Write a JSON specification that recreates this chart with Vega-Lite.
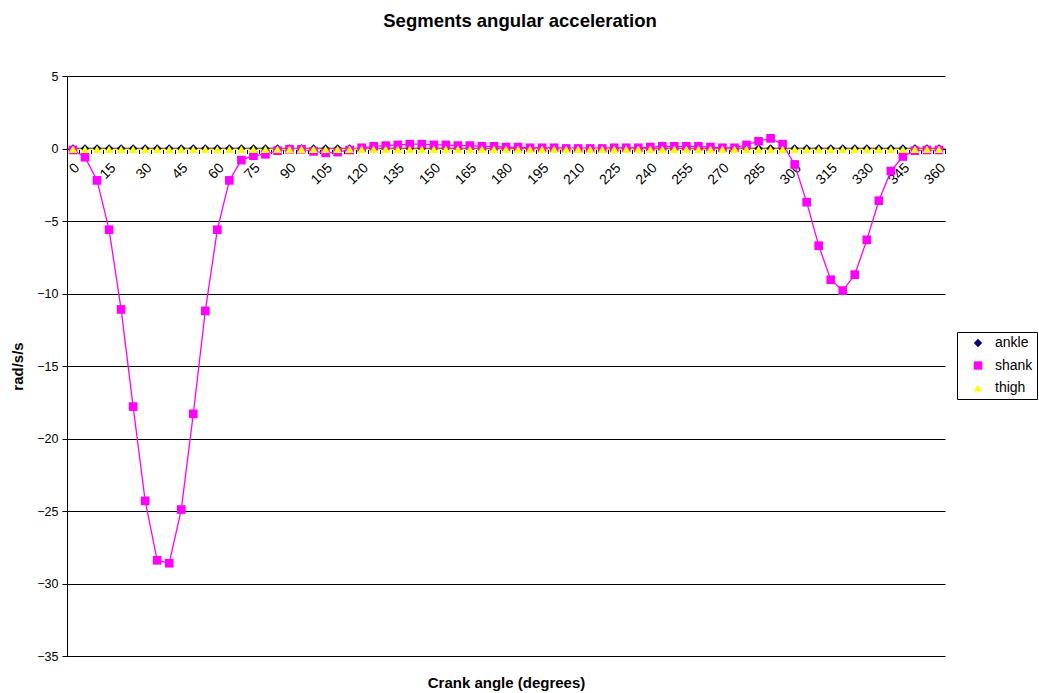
{
  "$schema": "https://vega.github.io/schema/vega-lite/v6.json",
  "width": 878,
  "height": 580,
  "autosize": {"type": "none"},
  "padding": {"left": 67, "top": 76, "right": 94, "bottom": 37},
  "background": "white",
  "config": {
    "font": "Liberation Sans",
    "view": {"stroke": null},
    "axis": {"labelColor": "black", "titleColor": "black", "domainColor": "black", "tickColor": "black"},
    "legend": {
      "orient": "none",
      "legendX": 890,
      "legendY": 256,
      "strokeColor": "black",
      "fillColor": "white",
      "padding": 4,
      "symbolSize": 70,
      "symbolOffset": 10,
      "symbolStrokeWidth": 1,
      "labelFontSize": 14,
      "labelColor": "black",
      "labelOffset": 10,
      "rowPadding": 8.5,
      "title": null
    }
  },
  "title": {
    "text": "Segments angular acceleration",
    "fontSize": 18.5,
    "fontWeight": "bold",
    "color": "black",
    "anchor": "middle",
    "offset": 40,
    "dx": 14
  },
  "data": {
    "values": [
      {"angle": 0, "ankle": 0, "shank": -0.1, "thigh": -0.05},
      {"angle": 5, "ankle": 0, "shank": -0.6, "thigh": -0.05},
      {"angle": 10, "ankle": 0, "shank": -2.2, "thigh": -0.05},
      {"angle": 15, "ankle": 0, "shank": -5.6, "thigh": -0.05},
      {"angle": 20, "ankle": 0, "shank": -11.1, "thigh": -0.05},
      {"angle": 25, "ankle": 0, "shank": -17.8, "thigh": -0.05},
      {"angle": 30, "ankle": 0, "shank": -24.3, "thigh": -0.05},
      {"angle": 35, "ankle": 0, "shank": -28.4, "thigh": -0.05},
      {"angle": 40, "ankle": 0, "shank": -28.6, "thigh": -0.05},
      {"angle": 45, "ankle": 0, "shank": -24.9, "thigh": -0.05},
      {"angle": 50, "ankle": 0, "shank": -18.3, "thigh": -0.05},
      {"angle": 55, "ankle": 0, "shank": -11.2, "thigh": -0.05},
      {"angle": 60, "ankle": 0, "shank": -5.6, "thigh": -0.05},
      {"angle": 65, "ankle": 0, "shank": -2.2, "thigh": -0.05},
      {"angle": 70, "ankle": 0, "shank": -0.8, "thigh": -0.05},
      {"angle": 75, "ankle": 0, "shank": -0.5, "thigh": -0.05},
      {"angle": 80, "ankle": 0, "shank": -0.4, "thigh": -0.05},
      {"angle": 85, "ankle": 0, "shank": -0.15, "thigh": -0.05},
      {"angle": 90, "ankle": 0, "shank": -0.05, "thigh": -0.05},
      {"angle": 95, "ankle": 0, "shank": -0.05, "thigh": -0.05},
      {"angle": 100, "ankle": 0, "shank": -0.2, "thigh": -0.05},
      {"angle": 105, "ankle": 0, "shank": -0.3, "thigh": -0.05},
      {"angle": 110, "ankle": 0, "shank": -0.25, "thigh": -0.05},
      {"angle": 115, "ankle": 0, "shank": -0.1, "thigh": -0.05},
      {"angle": 120, "ankle": 0, "shank": 0.05, "thigh": -0.05},
      {"angle": 125, "ankle": 0, "shank": 0.15, "thigh": -0.05},
      {"angle": 130, "ankle": 0, "shank": 0.2, "thigh": -0.05},
      {"angle": 135, "ankle": 0, "shank": 0.25, "thigh": -0.05},
      {"angle": 140, "ankle": 0, "shank": 0.3, "thigh": -0.05},
      {"angle": 145, "ankle": 0, "shank": 0.3, "thigh": -0.05},
      {"angle": 150, "ankle": 0, "shank": 0.25, "thigh": -0.05},
      {"angle": 155, "ankle": 0, "shank": 0.25, "thigh": -0.05},
      {"angle": 160, "ankle": 0, "shank": 0.2, "thigh": -0.05},
      {"angle": 165, "ankle": 0, "shank": 0.2, "thigh": -0.05},
      {"angle": 170, "ankle": 0, "shank": 0.15, "thigh": -0.05},
      {"angle": 175, "ankle": 0, "shank": 0.15, "thigh": -0.05},
      {"angle": 180, "ankle": 0, "shank": 0.1, "thigh": -0.05},
      {"angle": 185, "ankle": 0, "shank": 0.1, "thigh": -0.05},
      {"angle": 190, "ankle": 0, "shank": 0.05, "thigh": -0.05},
      {"angle": 195, "ankle": 0, "shank": 0.05, "thigh": -0.05},
      {"angle": 200, "ankle": 0, "shank": 0.05, "thigh": -0.05},
      {"angle": 205, "ankle": 0, "shank": 0.0, "thigh": -0.05},
      {"angle": 210, "ankle": 0, "shank": 0.0, "thigh": -0.05},
      {"angle": 215, "ankle": 0, "shank": 0.0, "thigh": -0.05},
      {"angle": 220, "ankle": 0, "shank": 0.0, "thigh": -0.05},
      {"angle": 225, "ankle": 0, "shank": 0.05, "thigh": -0.05},
      {"angle": 230, "ankle": 0, "shank": 0.05, "thigh": -0.05},
      {"angle": 235, "ankle": 0, "shank": 0.05, "thigh": -0.05},
      {"angle": 240, "ankle": 0, "shank": 0.1, "thigh": -0.05},
      {"angle": 245, "ankle": 0, "shank": 0.15, "thigh": -0.05},
      {"angle": 250, "ankle": 0, "shank": 0.15, "thigh": -0.05},
      {"angle": 255, "ankle": 0, "shank": 0.15, "thigh": -0.05},
      {"angle": 260, "ankle": 0, "shank": 0.15, "thigh": -0.05},
      {"angle": 265, "ankle": 0, "shank": 0.1, "thigh": -0.05},
      {"angle": 270, "ankle": 0, "shank": 0.05, "thigh": -0.05},
      {"angle": 275, "ankle": 0, "shank": 0.05, "thigh": -0.05},
      {"angle": 280, "ankle": 0, "shank": 0.25, "thigh": -0.05},
      {"angle": 285, "ankle": 0, "shank": 0.5, "thigh": -0.05},
      {"angle": 290, "ankle": 0, "shank": 0.7, "thigh": -0.05},
      {"angle": 295, "ankle": 0, "shank": 0.3, "thigh": -0.05},
      {"angle": 300, "ankle": 0, "shank": -1.1, "thigh": -0.05},
      {"angle": 305, "ankle": 0, "shank": -3.7, "thigh": -0.05},
      {"angle": 310, "ankle": 0, "shank": -6.7, "thigh": -0.05},
      {"angle": 315, "ankle": 0, "shank": -9.05, "thigh": -0.05},
      {"angle": 320, "ankle": 0, "shank": -9.8, "thigh": -0.05},
      {"angle": 325, "ankle": 0, "shank": -8.7, "thigh": -0.05},
      {"angle": 330, "ankle": 0, "shank": -6.3, "thigh": -0.05},
      {"angle": 335, "ankle": 0, "shank": -3.6, "thigh": -0.05},
      {"angle": 340, "ankle": 0, "shank": -1.55, "thigh": -0.05},
      {"angle": 345, "ankle": 0, "shank": -0.55, "thigh": -0.05},
      {"angle": 350, "ankle": 0, "shank": -0.15, "thigh": -0.05},
      {"angle": 355, "ankle": 0, "shank": -0.1, "thigh": -0.05},
      {"angle": 360, "ankle": 0, "shank": -0.1, "thigh": -0.05}
    ]
  },
  "transform": [{"fold": ["ankle", "shank", "thigh"], "as": ["segment", "value"]}],
  "encoding": {
    "y": {
      "field": "value",
      "type": "quantitative",
      "scale": {"domain": [-35, 5], "nice": false, "zero": false},
      "axis": {
        "values": [-35, -30, -25, -20, -15, -10, -5, 0, 5],
        "title": "rad/s/s",
        "grid": true,
        "gridColor": "black",
        "gridWidth": 1,
        "domainColor": "black",
        "tickColor": "black",
        "tickSize": 5,
        "labelFontSize": 12.5,
        "labelPadding": 4,
        "titleFontSize": 15,
        "titleFontWeight": "bold",
        "titlePadding": 11
      }
    }
  },
  "layer": [
    {
      "mark": {"type": "line", "strokeWidth": 1.3},
      "encoding": {
        "x": {
          "field": "angle",
          "type": "quantitative",
          "scale": {"domain": [-2.5, 362.5], "nice": false, "zero": false},
          "axis": {
            "orient": "bottom",
            "offset": -507.5,
            "values": [-2.5, 2.5, 7.5, 12.5, 17.5, 22.5, 27.5, 32.5, 37.5, 42.5, 47.5, 52.5, 57.5, 62.5, 67.5, 72.5, 77.5, 82.5, 87.5, 92.5, 97.5, 102.5, 107.5, 112.5, 117.5, 122.5, 127.5, 132.5, 137.5, 142.5, 147.5, 152.5, 157.5, 162.5, 167.5, 172.5, 177.5, 182.5, 187.5, 192.5, 197.5, 202.5, 207.5, 212.5, 217.5, 222.5, 227.5, 232.5, 237.5, 242.5, 247.5, 252.5, 257.5, 262.5, 267.5, 272.5, 277.5, 282.5, 287.5, 292.5, 297.5, 302.5, 307.5, 312.5, 317.5, 322.5, 327.5, 332.5, 337.5, 342.5, 347.5, 352.5, 357.5, 362.5],
            "labels": false,
            "ticks": true,
            "tickSize": 5,
            "domain": true,
            "grid": false,
            "title": null
          }
        },
        "stroke": {
          "field": "segment",
          "type": "nominal",
          "scale": {"domain": ["thigh", "shank", "ankle"], "range": ["#FFFF00", "#FF00FF", "#000080"]},
          "legend": null
        }
      }
    },
    {
      "mark": {"type": "point", "filled": true, "opacity": 1, "size": 75},
      "encoding": {
        "x": {
          "field": "angle",
          "type": "quantitative",
          "scale": {"domain": [-2.5, 362.5], "nice": false, "zero": false},
          "axis": {
            "orient": "bottom",
            "offset": -507.5,
            "values": [0, 15, 30, 45, 60, 75, 90, 105, 120, 135, 150, 165, 180, 195, 210, 225, 240, 255, 270, 285, 300, 315, 330, 345, 360],
            "labels": true,
            "labelAngle": -45,
            "labelAlign": "right",
            "labelBaseline": "middle",
            "labelOffset": 4,
            "labelPadding": 17,
            "labelFontSize": 14,
            "labelOverlap": false,
            "labelFlush": false,
            "ticks": false,
            "domain": false,
            "grid": false,
            "title": null
          }
        },
        "color": {
          "field": "segment",
          "type": "nominal",
          "scale": {"domain": ["ankle", "shank", "thigh"], "range": ["#000080", "#FF00FF", "#FFFF00"]},
          "legend": {
            "title": null,
            "encode": {
              "symbols": {
                "update": {
                  "fill": {"value": {"expr": "scale('color', datum.value)"}},
                  "stroke": {"value": {"expr": "scale('color', datum.value)"}},
                  "strokeWidth": {"value": 1}
                }
              }
            }
          }
        },
        "shape": {
          "field": "segment",
          "type": "nominal",
          "scale": {"domain": ["ankle", "shank", "thigh"], "range": ["diamond", "square", "triangle-up"]},
          "legend": {"title": null}
        }
      }
    },
    {
      "transform": [{"filter": "false"}],
      "mark": {"type": "point"},
      "encoding": {
        "x": {
          "field": "angle",
          "type": "quantitative",
          "scale": {"domain": [-2.5, 362.5], "nice": false, "zero": false},
          "axis": {
            "orient": "bottom",
            "labels": false,
            "ticks": false,
            "domain": false,
            "grid": false,
            "title": "Crank angle (degrees)",
            "titleFontSize": 15,
            "titleFontWeight": "bold",
            "titlePadding": 19
          }
        }
      }
    }
  ],
  "resolve": {
    "axis": {"x": "independent"}
  }
}
